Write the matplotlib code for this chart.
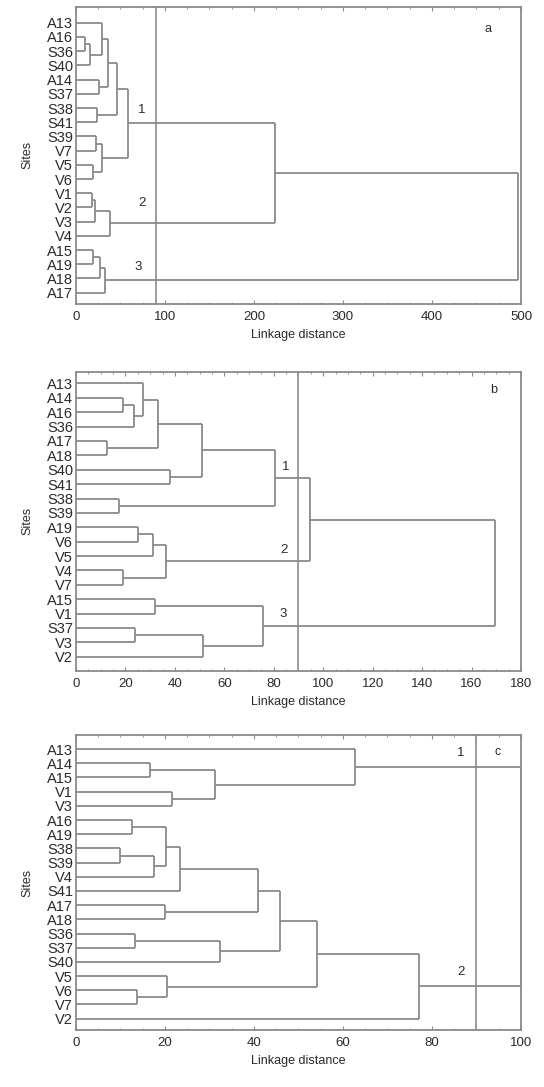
import matplotlib
matplotlib.use("Agg")
import matplotlib.pyplot as plt

plt.rcParams["font.family"] = ["Liberation Sans", "DejaVu Sans"]

LINE = "#8a8a8a"
TXT = "#2a2a2a"

# ---- panel a ----
leaves_a = ["A13", "A16", "S36", "S40", "A14", "S37", "S38", "S41", "S39", "V7",
            "V5", "V6", "V1", "V2", "V3", "V4", "A15", "A19", "A18", "A17"]
merges_a = [("A16", "S36", 10), ("m0", "S40", 16), ("A13", "m1", 29),
            ("A14", "S37", 26), ("m2", "m3", 36), ("S38", "S41", 24),
            ("m4", "m5", 46), ("S39", "V7", 23), ("V5", "V6", 19),
            ("m7", "m8", 29), ("m6", "m9", 58), ("V1", "V2", 17.6),
            ("m11", "V3", 21), ("m12", "V4", 38), ("m10", "m13", 224),
            ("A15", "A19", 19.5), ("m15", "A18", 27), ("m16", "A17", 33),
            ("m14", "m17", 497)]
xticks_a = [0, 100, 200, 300, 400, 500]
groups_a = [("1", 74, 6.15), ("2", 74, 12.7), ("3", 70, 17.2)]

# ---- panel b ----
leaves_b = ["A13", "A14", "A16", "S36", "A17", "A18", "S40", "S41", "S38", "S39",
            "A19", "V6", "V5", "V4", "V7", "A15", "V1", "S37", "V3", "V2"]
merges_b = [("A14", "A16", 19.2), ("m0", "S36", 23.3), ("A13", "m1", 27),
            ("A17", "A18", 12.7), ("m2", "m3", 33.1), ("S40", "S41", 38),
            ("m4", "m5", 51.1), ("S38", "S39", 17.5), ("m6", "m7", 80.6),
            ("A19", "V6", 25.2), ("m9", "V5", 31), ("V4", "V7", 19.2),
            ("m10", "m11", 36.3), ("m8", "m12", 94.5), ("A15", "V1", 32),
            ("S37", "V3", 23.9), ("m15", "V2", 51.5), ("m14", "m16", 75.8),
            ("m13", "m17", 169.6)]
xticks_b = [0, 20, 40, 60, 80, 100, 120, 140, 160, 180]
groups_b = [("1", 85, 5.8), ("2", 84, 11.6), ("3", 83.7, 16.0)]

# ---- panel c ----
leaves_c = ["A13", "A14", "A15", "V1", "V3", "A16", "A19", "S38", "S39", "V4",
            "S41", "A17", "A18", "S36", "S37", "S40", "V5", "V6", "V7", "V2"]
merges_c = [("A14", "A15", 16.6), ("V1", "V3", 21.6), ("m0", "m1", 31.3),
            ("A13", "m2", 62.7), ("A16", "A19", 12.6), ("S38", "S39", 10),
            ("m5", "V4", 17.5), ("m4", "m6", 20.3), ("m7", "S41", 23.3),
            ("A17", "A18", 20.1), ("m8", "m9", 40.9), ("S36", "S37", 13.2),
            ("m11", "S40", 32.4), ("m10", "m12", 45.8), ("V6", "V7", 13.6),
            ("V5", "m14", 20.5), ("m13", "m15", 54.1), ("m16", "V2", 77),
            ("m3", "m17", 100)]
xticks_c = [0, 20, 40, 60, 80, 100]
groups_c = [("1", 86.5, 0.3), ("2", 86.5, 15.7)]

cut_level = 90


def draw_tree(ax, leaves, merges):
    pos = {name: i for i, name in enumerate(leaves)}
    hgt = {name: 0.0 for name in leaves}
    for k, (a, b, h) in enumerate(merges):
        ax.plot([h, h], [pos[a], pos[b]], color=LINE, lw=1.3, solid_capstyle="butt")
        ax.plot([hgt[a], h], [pos[a], pos[a]], color=LINE, lw=1.3, solid_capstyle="butt")
        ax.plot([hgt[b], h], [pos[b], pos[b]], color=LINE, lw=1.3, solid_capstyle="butt")
        key = "m%d" % k
        pos[key] = (pos[a] + pos[b]) / 2
        hgt[key] = h


fig = plt.figure(figsize=(5.44, 10.87), dpi=100)

panels = [
    (leaves_a, merges_a, xticks_a, groups_a, ("a", 0.925, 0.924),
     [0.1397, 0.7203, 0.818, 0.2735], (19.8, -1.13)),
    (leaves_b, merges_b, xticks_b, groups_b, ("b", 0.938, 0.939),
     [0.1397, 0.3827, 0.818, 0.2753], (19.99, -0.81)),
    (leaves_c, merges_c, xticks_c, groups_c, ("c", 0.948, 0.942),
     [0.1397, 0.0524, 0.818, 0.2714], (19.8, -0.99)),
]

for leaves, merges, xticks, groups, letter, rect, ylim in panels:
    ax = fig.add_axes(rect)
    draw_tree(ax, leaves, merges)
    xmax = xticks[-1]
    ax.axvline(cut_level, color=LINE, lw=1.2)
    ax.set_xlim(0, xmax)
    ax.set_ylim(*ylim)
    ax.set_xticks(xticks)
    ax.set_xticklabels([str(t) for t in xticks], fontsize=9.5, color=TXT)
    step = xticks[1] - xticks[0]
    ax.set_xticks([t + step * f for t in xticks[:-1] for f in (0.25, 0.5, 0.75)], minor=True)
    ax.tick_params(axis="x", which="both", direction="in", top=True, bottom=True,
                   color=LINE, length=3, pad=5)
    ax.tick_params(axis="x", which="minor", length=1.5)
    ax.set_yticks(range(len(leaves)))
    ax.set_yticklabels(leaves, fontsize=10.5, color=TXT)
    ax.tick_params(axis="y", which="both", length=0, pad=2)
    for sp in ax.spines.values():
        sp.set_color(LINE)
        sp.set_linewidth(1.3)
    ax.set_xlabel("Linkage distance", fontsize=9, color=TXT, labelpad=4)
    ax.set_ylabel("Sites", fontsize=9, color=TXT, labelpad=10)
    for txt, gx, gy in groups:
        ax.text(gx, gy, txt, fontsize=9.5, color=TXT, ha="center", va="center")
    ax.text(letter[1], letter[2], letter[0], transform=ax.transAxes,
            fontsize=9, color=TXT, ha="center", va="center")

fig.savefig("out.png", dpi=100)
